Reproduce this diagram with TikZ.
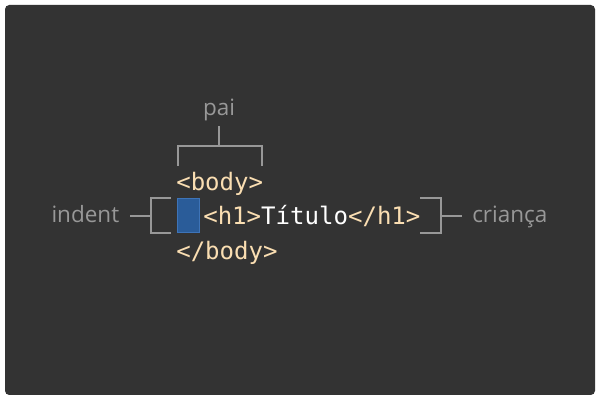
\documentclass[tikz,border=0pt]{standalone}
\usepackage{fontspec}
\setmainfont{Open Sans}
\newfontfamily\codefont{DejaVu Sans Mono}
\usetikzlibrary{positioning,calc}
\definecolor{panel}{RGB}{51,51,51}
\definecolor{tagcol}{RGB}{250,222,178}
\definecolor{note}{RGB}{152,152,152}
\definecolor{indentfill}{RGB}{42,92,153}
\definecolor{indentline}{RGB}{62,116,184}

\begin{document}
\begin{tikzpicture}[x=0.025cm,y=-0.025cm,
    code/.style={inner sep=0pt,anchor=base west,font=\codefont\fontsize{17.1pt}{20pt}\selectfont,text=tagcol},
    label/.style={inner sep=0pt,font=\fontsize{16pt}{19pt}\selectfont,text=note},
    brace/.style={draw=note,line width=1.4pt}]
    \useasboundingbox (0,0) rectangle (600,400);
    \fill[panel,rounded corners=3pt] (5,5) rectangle (595,395);

    % Code lines
    \node[code] (open) at (176,191) {<body>};
    \node[code] (child) at (203,225) {<h1>\textcolor{white}{Título}</h1>};
    \node[code] (close) at (176,260) {</body>};

    % Indent block
    \node[fill=indentfill,draw=indentline,line width=0.8pt,inner sep=0pt,
          minimum width=0.55cm,minimum height=0.85cm] (indent) at (188.5,215.5) {};

    % Labels
    \node[label,anchor=base] (pai) at (219,116) {pai};
    \node[label,anchor=base east] (indentlbl) at (119.5,223) {indent};
    \node[label,anchor=base west] (crianca) at (472,223) {criança};

    % Parent bracket
    \coordinate (paistem) at (219,146);
    \draw[brace] (178,166) -- (178,146) -- (262,146) -- (262,166);
    \draw[brace] (paistem) -- (pai.south |- 0,126);

    % Indent bracket
    \coordinate (indentstem) at (151,216);
    \draw[brace] (171,198) -- (151,198) -- (151,233) -- (171,233);
    \draw[brace] (indentstem) -- (130,216);

    % Child bracket
    \coordinate (childstem) at (441,216);
    \draw[brace] (420,198) -- (441,198) -- (441,233) -- (420,233);
    \draw[brace] (childstem) -- (462,216);
\end{tikzpicture}
\end{document}
